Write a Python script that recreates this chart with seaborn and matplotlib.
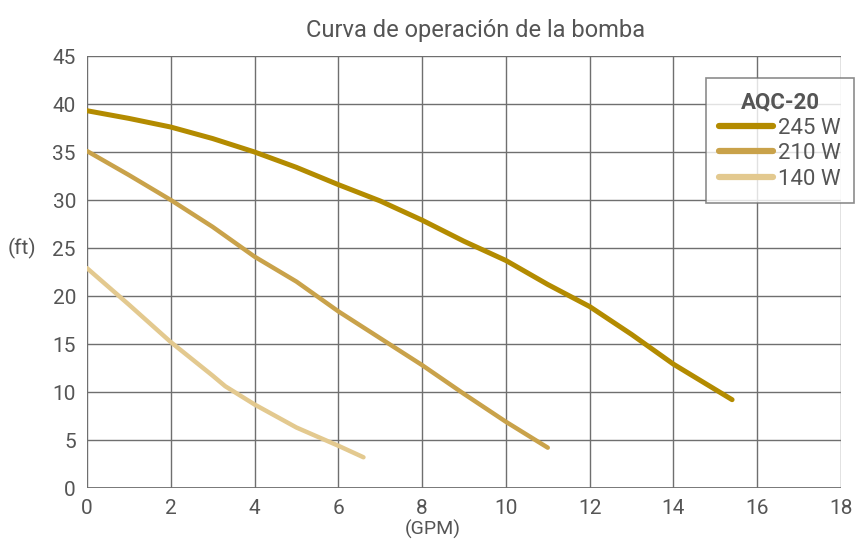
import matplotlib
matplotlib.use("Agg")
import matplotlib.pyplot as plt
import seaborn as sns
import pandas as pd

series_names = ["245 W", "210 W", "140 W"]
x_245 = [0, 1, 2, 3, 4, 5, 6, 7, 8, 9, 10, 11, 12, 13, 14, 15.4]
y_245 = [39.3, 38.5, 37.6, 36.4, 35.0, 33.4, 31.6, 29.9, 27.9, 25.7, 23.7, 21.2, 18.9, 16.0, 12.9, 9.2]
x_210 = [0, 1, 2, 3, 4, 5, 6, 7, 8, 9, 10, 11]
y_210 = [35.1, 32.6, 30.0, 27.2, 24.1, 21.5, 18.4, 15.6, 12.8, 9.8, 6.9, 4.2]
x_140 = [0, 1, 2, 3, 3.3, 4, 5, 6, 6.6]
y_140 = [22.9, 19.1, 15.2, 11.7, 10.6, 8.7, 6.3, 4.4, 3.2]
colors = ["#B38B00", "#C9A24A", "#E3C98F"]
x_ticks = [0, 2, 4, 6, 8, 10, 12, 14, 16, 18]
y_ticks = [0, 5, 10, 15, 20, 25, 30, 35, 40, 45]

frames = []
for name, xs, ys in zip(series_names, [x_245, x_210, x_140], [y_245, y_210, y_140]):
    frames.append(pd.DataFrame({"GPM": xs, "ft": ys, "serie": name}))
df = pd.concat(frames, ignore_index=True)

sns.set_style("white")
fam = "Roboto"
plt.rcParams["font.family"] = [fam, "DejaVu Sans"]
txt = "#555555"

fig = plt.figure(figsize=(8.56, 5.41), dpi=100)
ax = fig.add_axes([87/856, 1-488/541, (841-87)/856, (488-56)/541])
sns.lineplot(data=df, x="GPM", y="ft", hue="serie", palette=colors, sort=False,
             linewidth=3.2, ax=ax, legend=False)
for l, w in zip(ax.lines, [3.6, 3.2, 3.2]):
    l.set_linewidth(w)
    l.set_solid_capstyle("round")
    l.set_solid_joinstyle("round")

ax.set_xlim(0, 18)
ax.set_ylim(0, 45)
ax.set_xticks(x_ticks)
ax.set_yticks(y_ticks)
ax.set_xticklabels([str(t) for t in x_ticks], fontsize=15, color=txt)
ax.set_yticklabels([str(t) for t in y_ticks], fontsize=15, color=txt)
ax.grid(True, color="#6f6f6f", linewidth=1.0)
ax.set_axisbelow(True)
for s in ax.spines.values():
    s.set_visible(False)
ax.tick_params(axis="both", length=5, color="#6f6f6f", pad=3)
ax.set_xlabel("")
ax.set_ylabel("")
ax.axhline(0, color="#6f6f6f", linewidth=2.0, zorder=1)

fig.text(476/856, 1-30/541, "Curva de operación de la bomba", ha="center", va="center",
         fontsize=17, color=txt)
fig.text(22/856, 1-248/541, "(ft)", ha="center", va="center", fontsize=15, color=txt)
fig.text(433/856, 1-529/541, "(GPM)", ha="center", va="center", fontsize=14, color=txt)

handles = [plt.Line2D([0], [0], color=c, linewidth=4.5, solid_capstyle="round") for c in colors]
leg = fig.legend(handles, series_names, title="AQC-20", loc="upper left",
                 bbox_to_anchor=(706/856, 1-78/541), frameon=True, fancybox=False,
                 fontsize=16, title_fontproperties={"size": 16, "weight": "bold", "family": fam},
                 handlelength=2.4, handletextpad=0.25, labelspacing=0.2, borderpad=0.6,
                 borderaxespad=0)
leg.get_frame().set_edgecolor("#6f6f6f")
leg.get_frame().set_linewidth(1.2)
for t in leg.get_texts():
    t.set_color(txt)
leg.get_title().set_color(txt)

fig.savefig("out.png", dpi=100)
